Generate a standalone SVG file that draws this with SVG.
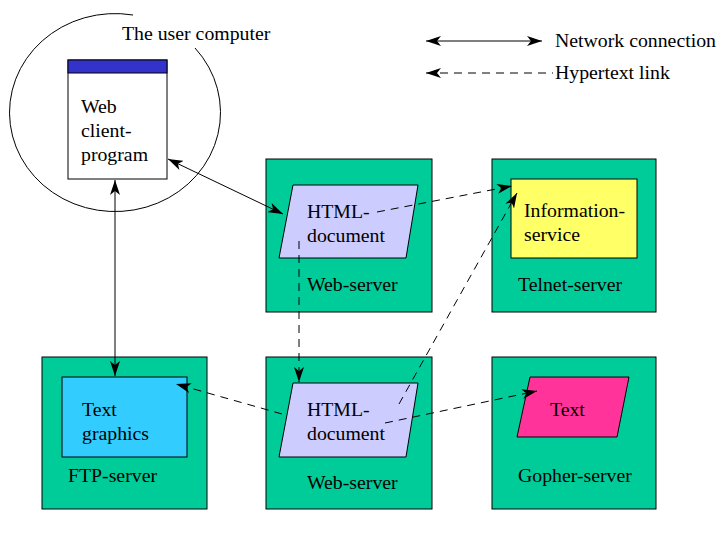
<svg xmlns="http://www.w3.org/2000/svg" width="728" height="535" viewBox="0 0 728 535">
<style>
text{font-family:"Liberation Serif","Times New Roman",serif;font-size:19.8px;fill:#000}
.srv{fill:#00cc99;stroke:#000;stroke-width:1}
.doc{fill:#ccccff;stroke:#000;stroke-width:1}
.ln{fill:none;stroke:#000;stroke-width:1}
.dash{fill:none;stroke:#000;stroke-width:1;stroke-dasharray:8,6}
</style>
<defs>
<marker id="ah" markerUnits="userSpaceOnUse" markerWidth="16" markerHeight="10" refX="15" refY="5" orient="auto-start-reverse">
<path d="M0,0 L15,5 L0,10 L4,5 z" fill="#000"/>
</marker>
</defs>
<rect width="728" height="535" fill="#fff"/>
<g id="user-computer">
<path class="ln" d="M133,15 A105.5,99 0 1 0 195,48"/>
<text x="122" y="40">The user computer</text>
</g>
<g id="web-client">
<rect x="68" y="60" width="99" height="119" fill="#fff" stroke="#000"/>
<rect x="68" y="60" width="99" height="13" fill="#3333cc" stroke="#000"/>
<text x="81" y="113">Web</text>
<text x="81" y="137">client-</text>
<text x="81" y="161">program</text>
</g>
<g id="web-server-top">
<rect class="srv" x="266" y="159" width="166" height="153"/>
<polygon class="doc" points="293,185 418,185 406,258 279,258"/>
<text x="307" y="218">HTML-</text>
<text x="307" y="242">document</text>
<text x="307" y="291">Web-server</text>
</g>
<g id="telnet-server">
<rect class="srv" x="492" y="159" width="164" height="153"/>
<rect x="511" y="179" width="126" height="79" fill="#ffff66" stroke="#000"/>
<text x="524" y="217">Information-</text>
<text x="524" y="241">service</text>
<text x="518" y="291">Telnet-server</text>
</g>
<g id="ftp-server">
<rect class="srv" x="42" y="357" width="165" height="152"/>
<rect x="62" y="377" width="125" height="80" fill="#33ccff" stroke="#000"/>
<text x="82" y="416">Text</text>
<text x="82" y="440">graphics</text>
<text x="68" y="482">FTP-server</text>
</g>
<g id="web-server-bottom">
<rect class="srv" x="266" y="357" width="166" height="152"/>
<polygon class="doc" points="293,383 418,383 406,457 279,457"/>
<text x="307" y="416">HTML-</text>
<text x="307" y="440">document</text>
<text x="307" y="489">Web-server</text>
</g>
<g id="gopher-server">
<rect class="srv" x="492" y="357" width="164" height="152"/>
<polygon points="530,377 629,377 617,437 517,437" fill="#ff3399" stroke="#000"/>
<text x="550" y="416">Text</text>
<text x="518" y="482">Gopher-server</text>
</g>
<g id="legend">
<line class="ln" x1="426" y1="41" x2="542" y2="41" marker-start="url(#ah)" marker-end="url(#ah)"/>
<text x="555" y="47">Network connection</text>
<line class="dash" x1="426" y1="73" x2="553" y2="73" marker-start="url(#ah)"/>
<text x="555" y="79">Hypertext link</text>
</g>
<g id="connectors">
<line class="ln" x1="168" y1="159" x2="283" y2="214" marker-start="url(#ah)" marker-end="url(#ah)"/>
<line class="ln" x1="115" y1="180" x2="115" y2="376" marker-start="url(#ah)" marker-end="url(#ah)"/>
<line class="dash" x1="377" y1="212" x2="512" y2="186" marker-end="url(#ah)"/>
<line class="dash" x1="399" y1="404" x2="517" y2="193" marker-end="url(#ah)"/>
<line class="dash" x1="299" y1="241" x2="299" y2="382" marker-end="url(#ah)"/>
<line class="dash" x1="282" y1="414" x2="176" y2="384" marker-end="url(#ah)"/>
<line class="dash" x1="385" y1="423" x2="537" y2="391" marker-end="url(#ah)"/>
</g>
</svg>
